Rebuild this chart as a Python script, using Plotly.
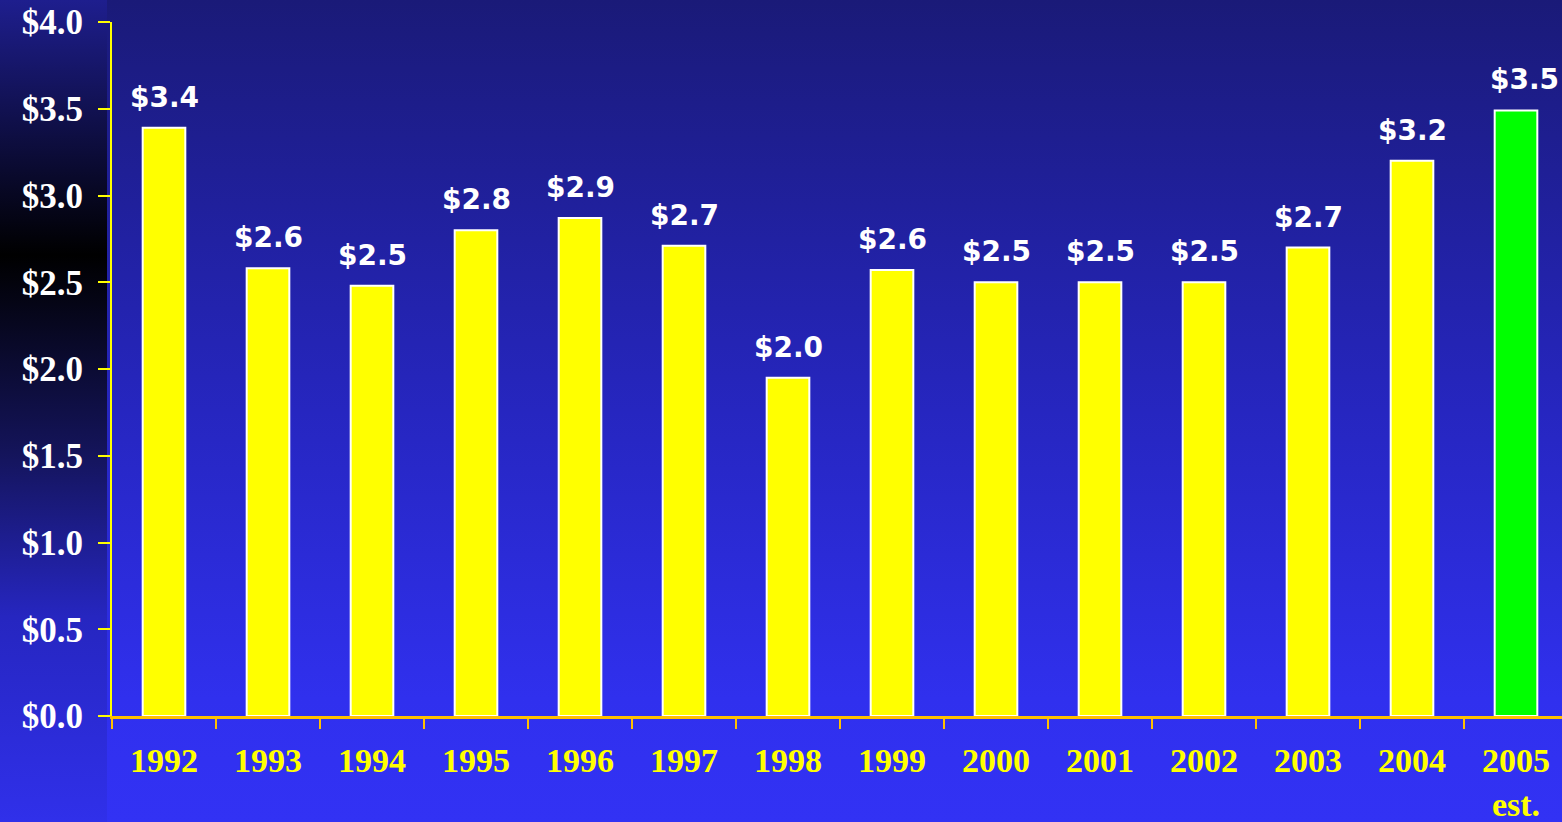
import base64
import plotly.graph_objects as go

# ---- data ----
years = ["1992", "1993", "1994", "1995", "1996", "1997", "1998",
         "1999", "2000", "2001", "2002", "2003", "2004", "2005"]
year_labels = ["1992", "1993", "1994", "1995", "1996", "1997", "1998",
               "1999", "2000", "2001", "2002", "2003", "2004", "2005<br>est."]
values = [3.39, 2.58, 2.48, 2.80, 2.87, 2.71, 1.95,
          2.57, 2.50, 2.50, 2.50, 2.70, 3.20, 3.49]
value_labels = ["$3.4", "$2.6", "$2.5", "$2.8", "$2.9", "$2.7", "$2.0",
                "$2.6", "$2.5", "$2.5", "$2.5", "$2.7", "$3.2", "$3.5"]
y_tickvals = [0, 0.5, 1.0, 1.5, 2.0, 2.5, 3.0, 3.5, 4.0]
y_ticktext = ["$0.0", "$0.5", "$1.0", "$1.5", "$2.0", "$2.5", "$3.0", "$3.5", "$4.0"]

W, H = 1562, 822
ML, MR, MT, MB = 112, 0, 22, 106

bar_colors = ["#FFFF00"] * (len(years) - 1) + ["#00FF00"]

# background gradient as SVG image
svg = f'''<svg xmlns="http://www.w3.org/2000/svg" width="{W}" height="{H}" viewBox="0 0 {W} {H}" preserveAspectRatio="none">
<defs>
<linearGradient id="g" x1="0" y1="0" x2="0" y2="1">
<stop offset="0" stop-color="#1a1a78"/>
<stop offset="0.5" stop-color="#2626c0"/>
<stop offset="0.85" stop-color="#3030ee"/>
<stop offset="1" stop-color="#3232f4"/>
</linearGradient>
<linearGradient id="s" x1="0" y1="0" x2="0" y2="1">
<stop offset="0" stop-color="#1e1e8e"/>
<stop offset="0.31" stop-color="#000000"/>
<stop offset="0.55" stop-color="#14145a"/>
<stop offset="0.75" stop-color="#2626c0"/>
<stop offset="1" stop-color="#3030ea"/>
</linearGradient>
</defs>
<rect x="0" y="0" width="{W}" height="{H}" fill="url(#g)"/>
<rect x="0" y="0" width="107" height="{H}" fill="url(#s)"/>
</svg>'''
src = "data:image/svg+xml;base64," + base64.b64encode(svg.encode()).decode()

pw = W - ML - MR
ph = H - MT - MB

fig = go.Figure()
fig.add_trace(go.Bar(
    x=years, y=values, width=0.41,
    marker=dict(color=bar_colors, line=dict(color="white", width=2)),
    hoverinfo="skip",
))

annotations = []
for i, (v, lab) in enumerate(zip(values, value_labels)):
    annotations.append(dict(
        x=i, y=v, text=lab, showarrow=False, xref="x", yref="y",
        yanchor="bottom", yshift=12, xshift=(8 if i == len(values) - 1 else 0),
        font=dict(family="DejaVu Sans", size=28, color="white", weight="bold"),
    ))

fig.update_layout(
    width=W, height=H,
    margin=dict(l=ML, r=MR, t=MT, b=MB, pad=0),
    paper_bgcolor="#2626c0", plot_bgcolor="rgba(0,0,0,0)",
    showlegend=False,
    annotations=annotations,
    images=[dict(
        source=src, xref="paper", yref="paper",
        x=-ML / pw, y=1 + MT / ph, sizex=W / pw, sizey=H / ph,
        xanchor="left", yanchor="top", sizing="stretch", layer="below",
    )],
    xaxis=dict(
        type="category", range=[-0.5, -0.5 + pw / 104.0], automargin=False,
        tickmode="array", tickvals=years, ticktext=year_labels,
        tickson="boundaries", ticks="outside", ticklen=10, tickwidth=2,
        tickcolor="#FFC000", showline=True, linecolor="#FFC000", linewidth=3,
        showgrid=False, zeroline=False,
        tickfont=dict(family="Liberation Serif", size=34, color="#FFFF00", weight="bold"),
        ticklabelstandoff=12,
    ),
    yaxis=dict(
        range=[0, 4], automargin=False,
        tickmode="array", tickvals=y_tickvals, ticktext=y_ticktext,
        ticks="outside", ticklen=12, tickwidth=2, tickcolor="#FFFF00",
        showline=True, linecolor="#FFFF00", linewidth=2,
        showgrid=False, zeroline=False,
        tickfont=dict(family="Liberation Serif", size=35, color="white", weight="bold"),
        ticklabelstandoff=8,
    ),
)

fig.write_html("out.html", config={"displayModeBar": False},
               post_script="document.body.style.margin='0';document.body.style.overflow='hidden';")
